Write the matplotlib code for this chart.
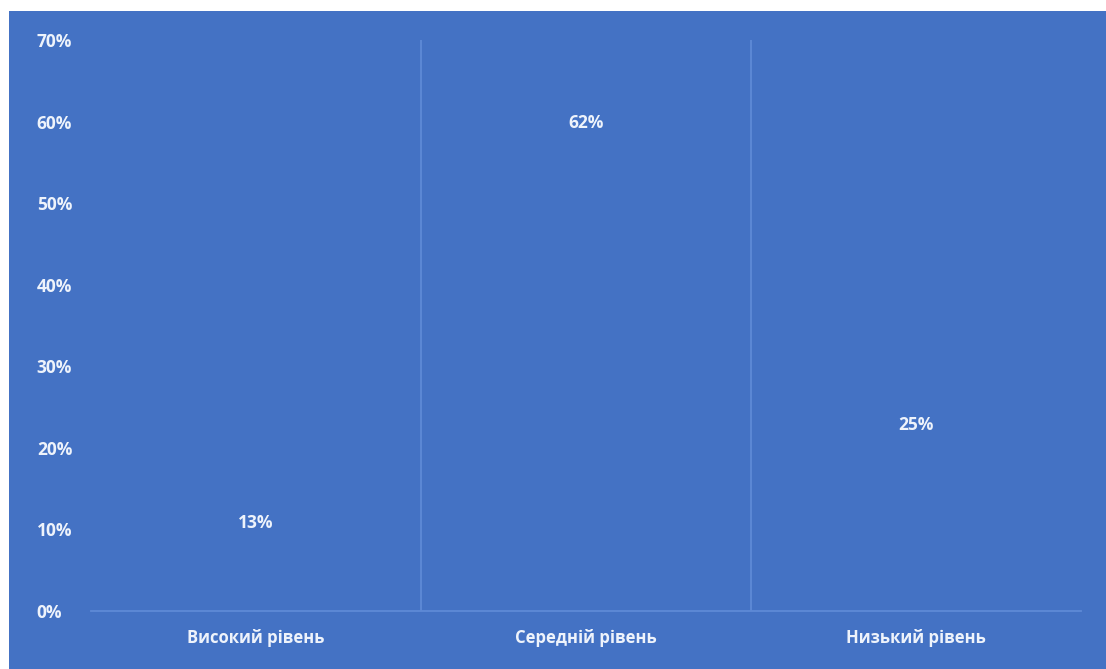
import matplotlib.pyplot as plt
from matplotlib.patches import Rectangle

categories = ["Високий рівень", "Середній рівень", "Низький рівень"]
values = [0.13, 0.62, 0.25]
labels = ["13%", "62%", "25%"]
yticks = [0, 0.1, 0.2, 0.3, 0.4, 0.5, 0.6, 0.7]
ytick_labels = ["0%", "10%", "20%", "30%", "40%", "50%", "60%", "70%"]

bg = "#4472C4"
line_col = "#5E8AD6"
txt = "#EEF3FB"

plt.rcParams["font.family"] = ["Open Sans", "DejaVu Sans"]

fig = plt.figure(figsize=(11.06, 6.69), dpi=100)
fig.patch.set_facecolor("white")
# blue chart area (white margin on top and left like the screenshot)
fig.patches.append(Rectangle((9 / 1106, 0), 1, 1 - 11 / 669, transform=fig.transFigure,
                             facecolor=bg, edgecolor="none", zorder=-10))

ax = fig.add_axes([91 / 1106, 58 / 669, 990 / 1106, 571 / 669])
ax.set_facecolor("none")
ax.set_zorder(5)

x = range(len(categories))
bars = ax.bar(x, values, width=0.6, color=bg, zorder=1)
ax.set_xlim(-0.5, 2.5)
ax.set_ylim(0, 0.7)

# separators between categories
for b in [0.5, 1.5]:
    ax.plot([b, b], [0, 0.7], color=line_col, lw=1.3, zorder=0.5)

for sp in ["top", "right", "left"]:
    ax.spines[sp].set_visible(False)
ax.spines["bottom"].set_color(line_col)
ax.spines["bottom"].set_linewidth(1.3)

ax.set_yticks(yticks)
ax.set_yticklabels(ytick_labels, color=txt, fontsize=12.5, fontweight="bold", ha="left")
ax.tick_params(axis="y", length=0, pad=39)
ax.set_xticks(list(x))
ax.set_xticklabels(categories, color=txt, fontsize=12, fontweight="bold")
ax.tick_params(axis="x", length=0, pad=13)

for rect, lab in zip(bars, labels):
    ax.annotate(lab, (rect.get_x() + rect.get_width() / 2, rect.get_height()),
                xytext=(0, -13), textcoords="offset points", ha="center", va="center",
                color=txt, fontsize=12.5, fontweight="bold")

fig.savefig("out.png", dpi=100)
